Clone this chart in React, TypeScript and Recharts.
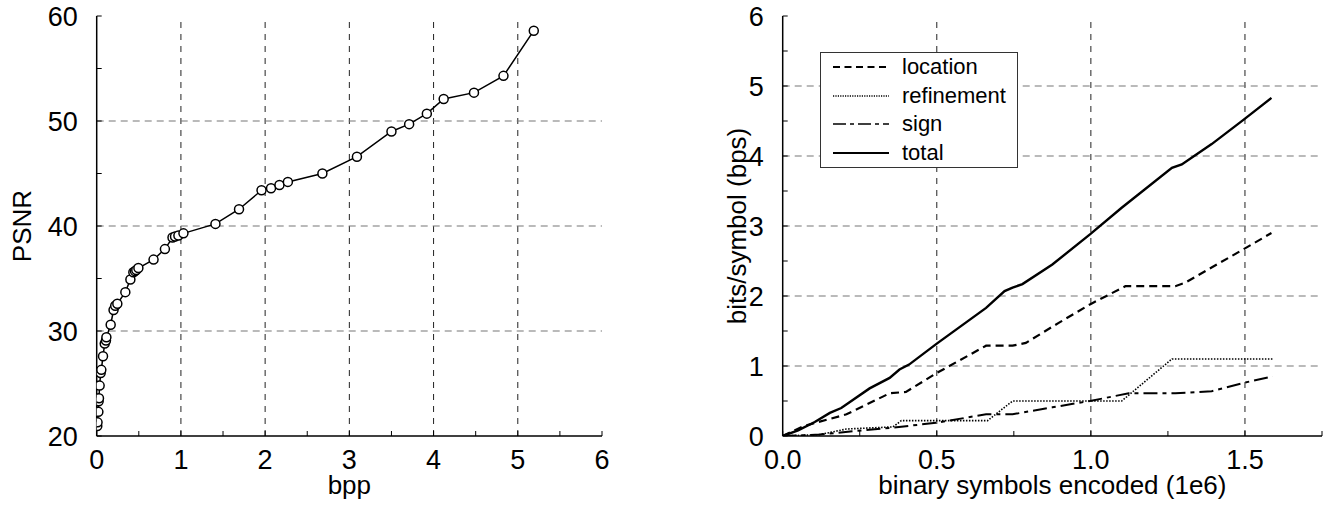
import React from 'react';
import { LineChart, Line, XAxis, YAxis, ReferenceLine, Legend } from 'recharts';

// left panel: PSNR vs bpp
const bpp = [0.007, 0.01, 0.02, 0.023, 0.027, 0.035, 0.047, 0.055, 0.075, 0.095, 0.11, 0.115, 0.166, 0.2, 0.22, 0.245, 0.34, 0.4, 0.435, 0.455, 0.47, 0.495, 0.675, 0.81, 0.9, 0.93, 0.97, 1.03, 1.41, 1.69, 1.957, 2.07, 2.17, 2.27, 2.68, 3.09, 3.5, 3.71, 3.92, 4.12, 4.48, 4.83, 5.19];
const psnr = [20.95, 21.3, 22.3, 23.3, 23.6, 24.8, 26.0, 26.3, 27.6, 28.8, 29.1, 29.4, 30.6, 32.0, 32.4, 32.6, 33.7, 34.9, 35.6, 35.7, 35.8, 36.0, 36.8, 37.8, 38.9, 39.0, 39.1, 39.3, 40.2, 41.6, 43.4, 43.6, 43.9, 44.2, 45.0, 46.6, 49.0, 49.7, 50.7, 52.1, 52.7, 54.3, 58.6];
const bppTicks = [0, 0.5, 1, 1.5, 2, 2.5, 3, 3.5, 4, 4.5, 5, 5.5, 6];
const psnrTicks = [20, 25, 30, 35, 40, 45, 50, 55, 60];
const bppGrid = [1, 2, 3, 4, 5];
const psnrGrid = [30, 40, 50];

// right panel: bits/symbol vs binary symbols encoded (1e6)
const totalX = [0, 0.05, 0.104, 0.153, 0.19, 0.282, 0.347, 0.379, 0.41, 0.5, 0.66, 0.72, 0.746, 0.778, 0.875, 0.997, 1.1, 1.263, 1.295, 1.392, 1.496, 1.586];
const totalY = [0, 0.08, 0.2, 0.33, 0.4, 0.68, 0.83, 0.95, 1.02, 1.32, 1.83, 2.07, 2.12, 2.17, 2.45, 2.88, 3.26, 3.83, 3.88, 4.17, 4.52, 4.83];
const locationX = [0, 0.067, 0.207, 0.347, 0.4, 0.5, 0.66, 0.746, 0.789, 0.897, 0.997, 1.112, 1.274, 1.306, 1.496, 1.586];
const locationY = [0, 0.14, 0.31, 0.61, 0.63, 0.9, 1.29, 1.29, 1.33, 1.62, 1.88, 2.14, 2.14, 2.19, 2.67, 2.9];
const refinementX = [0, 0.12, 0.207, 0.358, 0.385, 0.665, 0.746, 1.1, 1.263, 1.59];
const refinementY = [0, 0.02, 0.1, 0.13, 0.22, 0.22, 0.5, 0.5, 1.1, 1.1];
const signX = [0, 0.12, 0.23, 0.358, 0.5, 0.66, 0.746, 0.875, 0.997, 1.123, 1.274, 1.392, 1.496, 1.59];
const signY = [0, 0.02, 0.07, 0.12, 0.19, 0.31, 0.31, 0.41, 0.5, 0.61, 0.61, 0.64, 0.76, 0.85];
const symTicks = [0, 0.25, 0.5, 0.75, 1, 1.25, 1.5, 1.75];
const bpsTicks = [0, 0.5, 1, 1.5, 2, 2.5, 3, 3.5, 4, 4.5, 5, 5.5, 6];
const symGrid = [0.5, 1, 1.5];
const bpsGrid = [1, 2, 3, 4, 5];

const FONT = '"Liberation Sans", Arial, Helvetica, sans-serif';
const tickStyle = { fill: '#000', fontSize: 27, fontFamily: FONT };
const labelFont = { fill: '#000', fontSize: 26, fontFamily: FONT };
const axisLine = { stroke: '#000', strokeWidth: 1.5 };
const tickLine = { stroke: '#000', strokeWidth: 1 };
const hGrid = { stroke: '#777', strokeWidth: 1.2, strokeDasharray: '7 5' };
const vGrid = { stroke: '#222', strokeWidth: 1, strokeDasharray: '6 6' };

const zip = (xs: number[], ys: number[]) => xs.map((x, i) => ({ x, y: ys[i] }));

const SERIES = [
  { name: 'location', data: zip(locationX, locationY), dash: '8 5', width: 2.2, legendDash: '7 4.5' },
  { name: 'refinement', data: zip(refinementX, refinementY), dash: '1.5 1.5', width: 1.6, legendDash: '1.2 1.2' },
  { name: 'sign', data: zip(signX, signY), dash: '14 5 4 5', width: 2, legendDash: '13 4 4 4' },
  { name: 'total', data: zip(totalX, totalY), dash: undefined, width: 2.4, legendDash: undefined },
];

const fmtTens = (v: number) => (v % 10 === 0 ? String(v) : '');
const fmtInt = (v: number) => (Number.isInteger(v) ? String(v) : '');
const fmtHalf = (v: number) => (Math.round(v * 100) % 50 === 0 ? v.toFixed(1) : '');

function LegendBox() {
  return (
    <div style={{ border: '1px solid #333', background: '#fff', width: 196, fontFamily: FONT, fontSize: 22 }}>
      {SERIES.map(s => (
        <div key={s.name} style={{ display: 'flex', alignItems: 'center', height: 28.5 }}>
          <svg width={56} height={10} style={{ marginLeft: 12, marginRight: 13 }}>
            <line x1={0} y1={5} x2={56} y2={5} stroke="#000" strokeWidth={s.width > 2 ? 2 : 1.5} strokeDasharray={s.legendDash} />
          </svg>
          <span style={{ color: '#000' }}>{s.name}</span>
        </div>
      ))}
    </div>
  );
}

function PsnrChart() {
  const data = zip(bpp, psnr);
  return (
    <LineChart width={620} height={510} data={data} margin={{ top: 16, right: 18, bottom: 0, left: 0 }}>
      <XAxis dataKey="x" type="number" domain={[0, 6]} ticks={bppTicks} allowDataOverflow height={74}
        tick={tickStyle} tickFormatter={fmtInt} tickSize={-5} tickMargin={19} axisLine={axisLine} tickLine={tickLine}
        label={{ value: 'bpp', position: 'insideBottom', offset: 16, ...labelFont }} />
      <XAxis xAxisId="top" orientation="top" dataKey="x" type="number" domain={[0, 6]} ticks={bppTicks} height={0}
        tickFormatter={() => ''} tickSize={-5} axisLine={axisLine} tickLine={tickLine} />
      <YAxis type="number" domain={[20, 60]} ticks={psnrTicks} allowDataOverflow width={96.7}
        tick={tickStyle} tickFormatter={fmtTens} tickSize={-5} tickMargin={24} axisLine={axisLine} tickLine={tickLine}
        label={{ value: 'PSNR', angle: -90, position: 'insideLeft', offset: 22, ...labelFont, style: { textAnchor: 'middle' } }} />
      <YAxis yAxisId="right" orientation="right" type="number" domain={[20, 60]} ticks={psnrTicks} width={0}
        tickFormatter={() => ''} tickSize={-5} axisLine={axisLine} tickLine={tickLine} />
      {bppGrid.map(v => <ReferenceLine key={'v' + v} x={v} {...vGrid} />)}
      {psnrGrid.map(v => <ReferenceLine key={'h' + v} y={v} {...hGrid} />)}
      <Line dataKey="y" stroke="#000" strokeWidth={1.5} isAnimationActive={false}
        dot={{ r: 4.5, fill: '#fff', stroke: '#000', strokeWidth: 1.5 }} />
    </LineChart>
  );
}

function BitsChart() {
  return (
    <LineChart width={666} height={510} margin={{ top: 16, right: 4, bottom: 0, left: 0 }}>
      <XAxis dataKey="x" type="number" domain={[0, 1.75]} ticks={symTicks} allowDataOverflow height={74}
        tick={tickStyle} tickFormatter={fmtHalf} tickSize={-5} tickMargin={19} axisLine={axisLine} tickLine={tickLine}
        label={{ value: 'binary symbols encoded (1e6)', position: 'insideBottom', offset: 16, ...labelFont }} />
      <XAxis xAxisId="top" orientation="top" dataKey="x" type="number" domain={[0, 1.75]} ticks={symTicks} height={0}
        tickFormatter={() => ''} tickSize={-5} axisLine={axisLine} tickLine={tickLine} />
      <YAxis type="number" domain={[0, 6]} ticks={bpsTicks} allowDataOverflow width={122.7}
        tick={tickStyle} tickFormatter={fmtInt} tickSize={-5} tickMargin={24} axisLine={axisLine} tickLine={tickLine}
        label={{ value: 'bits/symbol (bps)', angle: -90, position: 'insideLeft', offset: 77, ...labelFont, style: { textAnchor: 'middle' } }} />
      <YAxis yAxisId="right" orientation="right" type="number" domain={[0, 6]} ticks={bpsTicks} width={0}
        tickFormatter={() => ''} tickSize={-5} axisLine={axisLine} tickLine={tickLine} />
      {symGrid.map(v => <ReferenceLine key={'v' + v} x={v} {...vGrid} />)}
      {bpsGrid.map(v => <ReferenceLine key={'h' + v} y={v} {...hGrid} />)}
      {SERIES.map(s => (
        <Line key={s.name} data={s.data} dataKey="y" name={s.name} stroke="#000" strokeWidth={s.width}
          strokeDasharray={s.dash} dot={false} isAnimationActive={false} />
      ))}
      <Legend layout="vertical" align="center" verticalAlign="middle" content={() => <LegendBox />}
        wrapperStyle={{ left: 160, top: 52, width: 198, height: 116 }} />
    </LineChart>
  );
}

export default function App() {
  return (
    <div style={{ position: 'fixed', left: 0, top: 0, width: 1326, height: 510, background: '#fff' }}>
      <div style={{ position: 'absolute', left: 0, top: 0 }}>
        <PsnrChart />
      </div>
      <div style={{ position: 'absolute', left: 660, top: 0 }}>
        <BitsChart />
      </div>
    </div>
  );
}
